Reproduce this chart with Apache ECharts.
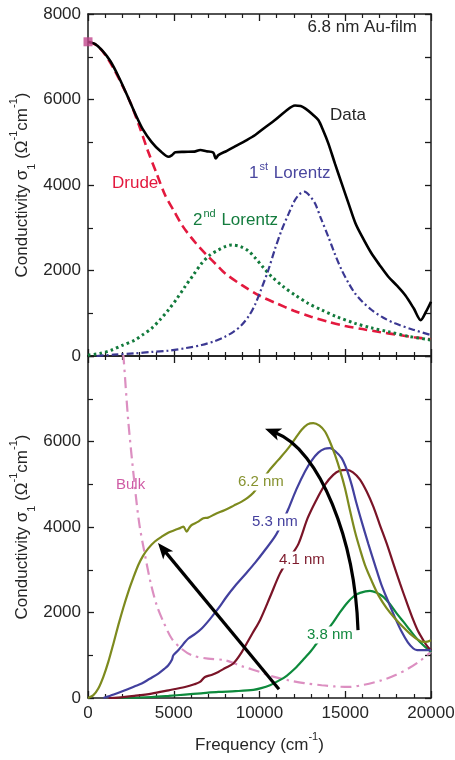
<!DOCTYPE html>
<html>
<head>
<meta charset="utf-8">
<script src="https://cdn.jsdelivr.net/npm/echarts@6/dist/echarts.min.js"></script>
<style>
  html, body { margin: 0; padding: 0; background: #fff; }
  #chart { width: 455px; height: 760px; }
</style>
</head>
<body>
<div id="chart"></div>
<script>
// ---- Upper panel: 6.8 nm Au film, measured conductivity and its fit components ----
const filmData = [[0,7350],[400,7300],[800,7160],[1300,6900],[1800,6520],[2300,6080],[2750,5670],[3200,5300],[3700,5010],[4200,4800],[4700,4660],[4900,4700],[5100,4765],[5600,4775],[6200,4780],[6550,4820],[6900,4790],[7300,4760],[7450,4620],[7600,4700],[8100,4800],[8600,4910],[9200,5040],[9750,5170],[10300,5340],[10900,5520],[11500,5720],[12070,5860],[12400,5850],[12700,5780],[13100,5650],[13430,5520],[13720,5270],[14013,4975],[14400,4500],[14791,4039],[15200,3560],[15600,3100],[16000,2780],[16500,2420],[17000,2130],[17500,1860],[18000,1650],[18500,1420],[19000,1110],[19400,840],[19700,1030],[20000,1270]];
const drude = [[0,7350],[500,7270],[1000,7050],[1500,6720],[2000,6330],[2500,5900],[3000,5365],[3500,4790],[4000,4270],[4500,3760],[5000,3400],[5500,3050],[6000,2780],[6500,2540],[7000,2330],[7500,2130],[8000,1930],[9000,1650],[10000,1410],[11000,1230],[12000,1060],[13000,920],[14000,800],[15000,700],[16000,630],[17000,560],[18000,500],[19000,440],[20000,390]];
const lorentz2 = [[0,20],[700,60],[1380,140],[2000,250],[2741,374],[3200,500],[3712,647],[4200,850],[4685,1076],[5200,1350],[5656,1622],[6150,1900],[6630,2168],[7100,2360],[7600,2480],[8000,2560],[8380,2596],[8900,2560],[9350,2460],[9738,2300],[10200,2080],[10710,1856],[11400,1620],[12070,1427],[12800,1240],[13625,1076],[14500,920],[15569,764],[16500,660],[17512,569],[18700,460],[20000,374]];
const lorentz1 = [[500,0],[1500,30],[2741,62],[3700,95],[4685,125],[5700,185],[6630,257],[7400,350],[7988,452],[8500,570],[8960,725],[9400,950],[9738,1200],[10100,1560],[10515,2012],[10900,2500],[11293,2947],[11700,3330],[12070,3649],[12350,3790],[12614,3843],[12900,3760],[13236,3571],[13600,3200],[14013,2790],[14400,2380],[14791,2012],[15200,1700],[15569,1466],[16000,1270],[16541,1076],[17200,900],[17901,764],[19000,610],[20000,491]];
const dcValue = [[0,7350]];

// ---- Lower panel: films of different thickness and bulk gold ----
const film62 = [[0,0],[300,60],[600,220],[900,500],[1184,844],[1500,1300],[1768,1704],[2050,2100],[2350,2484],[2650,2820],[2933,3110],[3200,3320],[3516,3501],[3900,3660],[4296,3773],[4700,3870],[5073,3930],[5400,3980],[5560,4008],[5755,3890],[5900,3980],[6045,4047],[6400,4120],[6725,4204],[7000,4220],[7400,4300],[7988,4399],[8500,4500],[8960,4593],[9300,4680],[9641,4800],[10000,5000],[10515,5297],[11100,5570],[11681,5845],[12100,6080],[12459,6274],[12800,6400],[13139,6431],[13500,6370],[13819,6234],[14100,6000],[14402,5688],[14700,5320],[14985,4907],[15280,4380],[15569,3890],[15860,3480],[16152,3110],[16540,2740],[16929,2407],[17400,2110],[17901,1861],[18400,1650],[18873,1469],[19250,1360],[19553,1312],[19800,1320],[20000,1352]];
const film53 = [[900,0],[1500,80],[2157,180],[2700,270],[3130,337],[3600,450],[4103,572],[4450,680],[4685,766],[4900,900],[4976,1000],[5265,1118],[5500,1230],[5656,1312],[5850,1392],[6250,1500],[6630,1626],[7100,1840],[7600,2095],[8100,2380],[8571,2620],[9250,2930],[9738,3160],[10300,3450],[10904,3780],[11300,4080],[11681,4420],[12150,4880],[12653,5300],[13050,5560],[13430,5740],[13800,5830],[14110,5845],[14450,5760],[14791,5610],[15100,5330],[15375,4985],[15650,4560],[15958,4125],[16350,3600],[16735,3110],[17100,2660],[17512,2250],[17900,1880],[18290,1547],[18650,1300],[18970,1158],[19200,1120],[19456,1118],[20000,1118]];
const film41 = [[1200,0],[1768,10],[2700,50],[3712,103],[4700,180],[5656,258],[6200,320],[6530,375],[6822,492],[7200,540],[7600,609],[8000,700],[8474,806],[8900,1030],[9252,1274],[9600,1520],[10029,1821],[10600,2350],[11195,2915],[11700,3250],[12265,3600],[12800,4200],[13300,4620],[13800,4980],[14300,5220],[14700,5320],[15083,5336],[15450,5280],[15860,5110],[16250,4830],[16638,4476],[17000,4070],[17415,3618],[17800,3150],[18192,2681],[18600,2220],[18970,1821],[19250,1560],[19553,1352],[19800,1200],[20000,1118]];
const film38 = [[1500,0],[2700,10],[3712,23],[4700,50],[5656,80],[6600,110],[7600,141],[8600,160],[9641,190],[10100,230],[10613,300],[11100,400],[11584,520],[12100,700],[12556,900],[13000,1100],[13333,1274],[13800,1500],[14207,1720],[14650,1980],[15083,2212],[15500,2380],[15860,2460],[16443,2508],[16800,2470],[17220,2367],[17600,2200],[17998,1978],[18400,1780],[18775,1587],[19150,1400],[19553,1235],[20000,1078]];
const bulk = [[1900,8600],[2058,8031],[2350,6468],[2741,4907],[3000,4050],[3323,3344],[3650,2700],[4005,2172],[4400,1780],[4879,1392],[5400,1170],[6045,1000],[7000,920],[7988,883],[9000,740],[10029,609],[10800,500],[11681,415],[12600,350],[13625,298],[14400,270],[15180,258],[16100,310],[17123,415],[17900,530],[18678,689],[19400,880],[20000,1078]];

// Arrows in the lower panel, given in data units (cm^-1, Ω^-1cm^-1)
const arrowStraight = [[11137,204],[4082,3626]];
const arrowCurved = [[15744,1587],[15569,3696],[13528,5805],[10321,6297]]; // cubic Bézier: start, c1, c2, tip

const xTicks = { min: 0, max: 20000, interval: 5000 };
const yTicks = { min: 0, max: 8000, interval: 2000 };

const FONT = 'Liberation Sans, Arial, sans-serif';
const AXIS_COLOR = '#1a1a1a';
const TEXT_COLOR = '#262626';

const chart = echarts.init(document.getElementById('chart'), null, { renderer: 'canvas' });

function xAxisDef(grid, position, showLabels, extra) {
  return Object.assign({
    type: 'value', gridIndex: grid, position: position,
    min: xTicks.min, max: xTicks.max, interval: xTicks.interval,
    axisLine: { show: true, onZero: false, lineStyle: { color: AXIS_COLOR, width: 1.5 } },
    axisTick: { show: true, inside: true, length: 7, lineStyle: { color: AXIS_COLOR, width: 1.3 } },
    minorTick: { show: true, splitNumber: 5, length: 4, lineStyle: { color: AXIS_COLOR, width: 1.2 } },
    axisLabel: { show: showLabels, fontFamily: FONT, fontSize: 17, color: TEXT_COLOR, margin: 7, formatter: v => String(v) },
    splitLine: { show: false }, minorSplitLine: { show: false }
  }, extra || {});
}

function yAxisDef(grid, position, showLabels, extra) {
  return Object.assign({
    type: 'value', gridIndex: grid, position: position,
    min: yTicks.min, max: yTicks.max, interval: yTicks.interval,
    axisLine: { show: true, onZero: false, lineStyle: { color: AXIS_COLOR, width: 1.5 } },
    axisTick: { show: true, inside: true, length: 6, lineStyle: { color: AXIS_COLOR, width: 1.3 } },
    minorTick: { show: true, splitNumber: 2, length: 5, lineStyle: { color: AXIS_COLOR, width: 1.2 } },
    axisLabel: { show: showLabels, fontFamily: FONT, fontSize: 17, color: TEXT_COLOR, margin: 7, formatter: v => String(v) },
    splitLine: { show: false }, minorSplitLine: { show: false }
  }, extra || {});
}

const yName = {
  name: 'Conductivity σ{sub|1} (Ω{sup|-1}cm{sup|-1})',
  nameLocation: 'middle', nameRotate: 90, nameGap: 55, nameMoveOverlap: false,
  nameTextStyle: {
    fontFamily: FONT, fontSize: 17, color: TEXT_COLOR, lineHeight: 22,
    rich: {
      sub: { fontFamily: FONT, fontSize: 11, color: TEXT_COLOR, verticalAlign: 'bottom', lineHeight: 22, padding: [0, 0, -4, 0] },
      sup: { fontFamily: FONT, fontSize: 11, color: TEXT_COLOR, verticalAlign: 'top', lineHeight: 22, padding: [-3, 0, 0, 0] }
    }
  }
};

function lineSeries(name, data, xi, yi, color, width, type) {
  return {
    name: name, type: 'line', data: data, xAxisIndex: xi, yAxisIndex: yi,
    showSymbol: false, symbol: 'none', smooth: 0.3, clip: true,
    lineStyle: { color: color, width: width, type: type || 'solid', cap: 'butt' },
    emphasis: { disabled: true }, z: 3
  };
}

const option = {
  animation: false,
  backgroundColor: '#fff',
  grid: [
    { left: 88, top: 14, width: 343, height: 342, containLabel: false, outerBoundsMode: 'none' },
    { left: 88, top: 356, width: 343, height: 342, containLabel: false, outerBoundsMode: 'none' }
  ],
  xAxis: [
    xAxisDef(0, 'bottom', false),
    xAxisDef(0, 'top', false),
    xAxisDef(1, 'bottom', true, {
      name: 'Frequency (cm{sup|-1})', nameLocation: 'middle', nameGap: 36, nameMoveOverlap: false,
      nameTextStyle: {
        fontFamily: FONT, fontSize: 17, color: TEXT_COLOR, lineHeight: 22,
        rich: { sup: { fontFamily: FONT, fontSize: 11, color: TEXT_COLOR, verticalAlign: 'top', lineHeight: 22, padding: [-3, 0, 0, 0] } }
      }
    }),
    xAxisDef(1, 'top', false)
  ],
  yAxis: [
    yAxisDef(0, 'left', true, yName),
    yAxisDef(0, 'right', false, { interval: 1000, minorTick: { show: false } }),
    yAxisDef(1, 'left', true, Object.assign({}, yName, {
      axisLabel: { show: true, fontFamily: FONT, fontSize: 17, color: TEXT_COLOR, margin: 7,
        formatter: v => (v >= yTicks.max ? '' : String(v)) }
    })),
    yAxisDef(1, 'right', false, { interval: 1000, minorTick: { show: false } })
  ],
  series: [
    lineSeries('Drude', drude, 0, 0, '#e3193e', 2.6, [9, 5]),
    lineSeries('2nd Lorentz', lorentz2, 0, 0, '#127a3c', 3, [2.6, 3.2]),
    lineSeries('1st Lorentz', lorentz1, 0, 0, '#3b3892', 2.2, [7, 3, 2, 3]),
    lineSeries('Data', filmData, 0, 0, '#000000', 2.6),
    {
      name: 'DC', type: 'scatter', data: dcValue, xAxisIndex: 0, yAxisIndex: 0,
      symbol: 'rect', symbolSize: 9, clip: false, z: 4,
      itemStyle: { color: '#c2478d' }, emphasis: { disabled: true }
    },
    lineSeries('Bulk', bulk, 2, 2, '#dc8fc1', 2.2, [11, 5, 2.5, 5]),
    lineSeries('3.8 nm', film38, 2, 2, '#0d8a3c', 2.2),
    lineSeries('4.1 nm', film41, 2, 2, '#7a1427', 2.2),
    lineSeries('5.3 nm', film53, 2, 2, '#42409e', 2.2),
    lineSeries('6.2 nm', film62, 2, 2, '#7d8a1e', 2.2)
  ]
};

chart.setOption(option);

// ---- Annotations ----
const labelFont = (size) => `${size}px ${FONT}`;
function textEl(text, x, y, color, size, opts) {
  opts = opts || {};
  return {
    type: 'text', x: x, y: y, z: 50, silent: true,
    style: Object.assign({
      text: text, fill: color, font: labelFont(size),
      align: opts.align || 'left', verticalAlign: 'middle',
      textAlign: opts.align || 'left', textVerticalAlign: 'middle',
      backgroundColor: opts.bg ? '#ffffff' : null,
      padding: opts.bg ? [1, 2, 1, 2] : 0,
      rich: opts.rich
    }, opts.style || {})
  };
}

const supRich = (color) => ({
  sup: { fontFamily: FONT, fontSize: 11, fill: color, color: color, verticalAlign: 'top', lineHeight: 20, padding: [-2, 1, 0, 1] },
  base: { fontFamily: FONT, fontSize: 17, fill: color, color: color, lineHeight: 20 }
});

const graphics = [
  textEl('6.8 nm Au-film', 417, 27, TEXT_COLOR, 17, { align: 'right' }),
  textEl('Data', 330, 115, TEXT_COLOR, 17),
  textEl('{base|1}{sup|st}{base| Lorentz}', 249, 173, '#4a479f', 17, { rich: supRich('#4a479f') }),
  textEl('Drude', 112, 183, '#e3193e', 17),
  textEl('{base|2}{sup|nd}{base| Lorentz}', 193, 220, '#147c3e', 17, { rich: supRich('#147c3e') }),
  textEl('Bulk', 116, 485, '#cf5ba5', 15),
  textEl('6.2 nm', 236, 482, '#86922f', 15, { bg: true }),
  textEl('5.3 nm', 250, 522, '#433f9d', 15, { bg: true }),
  textEl('4.1 nm', 277, 560, '#7d1a2c', 15, { bg: true }),
  textEl('3.8 nm', 305, 635, '#11893f', 15, { bg: true })
];

// Arrow shafts and heads drawn from data-space points
const toPx = (p) => chart.convertToPixel({ gridIndex: 1 }, p);
const HEAD_LEN = 16, HEAD_HALF = 6.5, ARROW_W = 3.2;

function headPoints(tip, from) {
  const dx = tip[0] - from[0], dy = tip[1] - from[1];
  const len = Math.hypot(dx, dy) || 1;
  const ux = dx / len, uy = dy / len;
  const bx = tip[0] - ux * HEAD_LEN, by = tip[1] - uy * HEAD_LEN;
  return {
    base: [bx, by],
    poly: [tip, [bx - uy * HEAD_HALF, by + ux * HEAD_HALF], [tip[0] - ux * (HEAD_LEN - 4), tip[1] - uy * (HEAD_LEN - 4)], [bx + uy * HEAD_HALF, by - ux * HEAD_HALF]]
  };
}

// straight arrow
{
  const a = toPx(arrowStraight[0]);
  const b = toPx(arrowStraight[1]);
  const h = headPoints(b, a);
  graphics.push({ type: 'line', z: 40, silent: true,
    shape: { x1: a[0], y1: a[1], x2: h.base[0] + (b[0] - h.base[0]) * 0.3, y2: h.base[1] + (b[1] - h.base[1]) * 0.3 },
    style: { stroke: '#000', lineWidth: ARROW_W } });
  graphics.push({ type: 'polygon', z: 41, silent: true, shape: { points: h.poly }, style: { fill: '#000' } });
}

// curved arrow
{
  const p = arrowCurved.map(toPx);
  const h = headPoints(p[3], p[2]);
  const end = [h.base[0] + (p[3][0] - h.base[0]) * 0.3, h.base[1] + (p[3][1] - h.base[1]) * 0.3];
  graphics.push({ type: 'bezierCurve', z: 40, silent: true,
    shape: { x1: p[0][0], y1: p[0][1], cpx1: p[1][0], cpy1: p[1][1], cpx2: p[2][0], cpy2: p[2][1], x2: end[0], y2: end[1] },
    style: { stroke: '#000', lineWidth: ARROW_W, fill: null } });
  graphics.push({ type: 'polygon', z: 41, silent: true, shape: { points: h.poly }, style: { fill: '#000' } });
}

chart.setOption({ graphic: graphics });
</script>
</body>
</html>
